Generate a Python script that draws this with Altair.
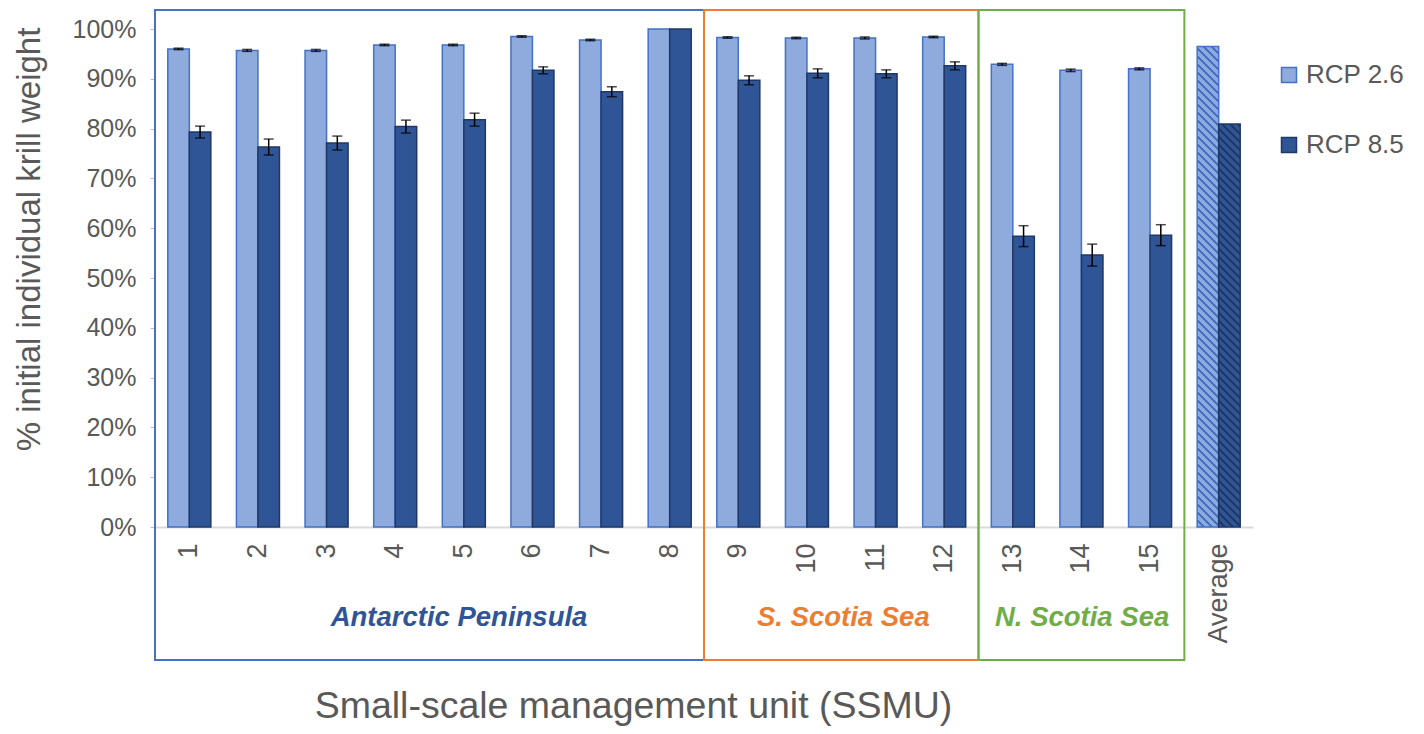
import altair as alt
import pandas as pd

# ---------------- data ----------------
categories = ["1", "2", "3", "4", "5", "6", "7", "8", "9", "10", "11", "12", "13", "14", "15", "Average"]
ssmu = categories[:15]
series = ["RCP 2.6", "RCP 8.5"]

rcp26 = [96.0, 95.7, 95.7, 96.8, 96.8, 98.5, 97.8, 100.0, 98.3, 98.2, 98.2, 98.4, 92.9, 91.7, 92.0]
rcp85 = [79.3, 76.3, 77.1, 80.4, 81.8, 91.7, 87.4, 100.0, 89.7, 91.1, 91.0, 92.6, 58.4, 54.6, 58.6]
err26 = [0.15, 0.2, 0.2, 0.15, 0.15, 0.15, 0.15, 0.0, 0.15, 0.15, 0.2, 0.15, 0.2, 0.25, 0.2]
err85 = [1.2, 1.6, 1.4, 1.3, 1.3, 0.7, 1.0, 0.0, 0.9, 0.9, 0.8, 0.8, 2.1, 2.2, 2.1]
avg_values = [96.5, 80.9]

regions = ["Antarctic Peninsula", "S. Scotia Sea", "N. Scotia Sea"]
region_first_slot = [0, 8, 12]   # SSMU slots covered by each region
region_last_slot = [8, 12, 15]

# ---------------- layout / style ----------------
W, H = 1098, 498
INNER_PAD = 0.373
LIGHT, DARK = "#8FAADC", "#2F5597"
LIGHT_EDGE, DARK_EDGE = "#4472C4", "#1F3864"
REGION_COLORS = ["#4472C4", "#ED7D31", "#70AD47"]
REGION_TEXT_COLORS = ["#2F5597", "#ED7D31", "#70AD47"]
GREY = "#595959"
FONT = "Liberation Sans"
BOX_TOP, BOX_BOTTOM = 103.8, -26.7          # in y-units (percent)
LABEL_X = [4.43, 10.03, 13.51]               # label centres in slot units
LABEL_Y = -18.3

bars_df = pd.DataFrame({
    "ssmu": ssmu + ssmu,
    "series": [series[0]] * len(ssmu) + [series[1]] * len(ssmu),
    "value": rcp26 + rcp85,
})

err_rows = []
for s, vals, errs in ((series[0], rcp26, err26), (series[1], rcp85, err85)):
    for c, v, e in zip(ssmu, vals, errs):
        if e > 0:
            err_rows.append({"ssmu": c, "series": s, "lo": v - e, "hi": v + e})
err_df = pd.DataFrame(err_rows)

avg_df = pd.DataFrame({"ssmu": ["Average"] * 2, "series": series, "value": avg_values})

box_df = pd.DataFrame({
    "region": regions,
    "x0": region_first_slot,
    "x1": region_last_slot,
    "y0": [BOX_BOTTOM] * 3,
    "y1": [BOX_TOP] * 3,
})
label_df = pd.DataFrame({"region": regions, "xq": LABEL_X, "yq": [LABEL_Y] * 3})


def hatch(base, stripe, value):
    step = W / len(categories)
    w = step * (1 - INNER_PAD) / 2
    h = value * H / 100.0
    total = w + h
    k = total / (w * w + h * h)
    period, line = 8.0, 3.0
    stops = []
    pos = 0.0
    while pos < total:
        a = round(pos / total, 5)
        b = round(min((pos + period - line) / total, 1.0), 5)
        c = round(min((pos + period) / total, 1.0), 5)
        stops += [
            {"offset": a, "color": base},
            {"offset": b, "color": base},
            {"offset": b, "color": stripe},
            {"offset": c, "color": stripe},
        ]
        pos += period
    return {"gradient": "linear", "x1": 0, "y1": 1,
            "x2": round(w * k, 5), "y2": round(1 - h * k, 5), "stops": stops}


x_band = alt.Scale(domain=categories, paddingInner=INNER_PAD, paddingOuter=INNER_PAD / 2)
xo_scale = alt.Scale(domain=series, paddingInner=0, paddingOuter=0)
y_scale = alt.Scale(domain=[0, 100], nice=False, zero=True)
xq_scale = alt.Scale(domain=[0, 16], nice=False, zero=False)

y_axis = alt.Axis(
    title="% initial individual krill weight",
    values=[0, 10, 20, 30, 40, 50, 60, 70, 80, 90, 100],
    labelExpr="datum.value + '%'", labelFontSize=25, labelColor=GREY,
    labelFont=FONT, tickColor="#BFBFBF", tickSize=5, labelPadding=14,
    domainColor="#D9D9D9", grid=False,
    titleFontSize=33, titleColor=GREY, titleFont=FONT, titleFontWeight="normal",
    titleAngle=270, titleX=-116, titleY=210, titleBaseline="alphabetic",
    titleAlign="center",
)

legend = alt.Legend(
    title=None, orient="none", legendX=1121, legendY=33,
    labelFontSize=26, labelColor=GREY, labelFont=FONT,
    symbolType="square", symbolSize=225, symbolStrokeWidth=1.5,
    rowPadding=44, labelOffset=4,
)

bars = alt.Chart(bars_df).mark_bar(strokeWidth=1.5).encode(
    x=alt.X("ssmu:N", scale=x_band, sort=categories,
            axis=alt.Axis(title="Small-scale management unit (SSMU)",
                          labelAngle=270, labelFontSize=27, labelColor=GREY, labelFont=FONT,
                          ticks=False, labelPadding=16, domainColor="#D9D9D9", domainWidth=2,
                          titleFontSize=37.5, titleColor=GREY, titleFont=FONT, titleFontWeight="normal",
                          titleX=478, titleY=190, titleBaseline="alphabetic", titleAlign="center")),
    xOffset=alt.XOffset("series:N", scale=xo_scale),
    y=alt.Y("value:Q", scale=y_scale, axis=y_axis),
    color=alt.Color("series:N", scale=alt.Scale(domain=series, range=[LIGHT, DARK]), legend=legend),
    stroke=alt.Stroke("series:N", scale=alt.Scale(domain=series, range=[LIGHT_EDGE, DARK_EDGE]), legend=legend),
)

avg_layers = []
for i, (base, stripe, edge) in enumerate(((LIGHT, LIGHT_EDGE, LIGHT_EDGE), (DARK, DARK_EDGE, DARK_EDGE))):
    avg_layers.append(
        alt.Chart(avg_df.iloc[[i]]).mark_bar(fill=hatch(base, stripe, avg_values[i]),
                                             stroke=edge, strokeWidth=1.5).encode(
            x=alt.X("ssmu:N", scale=x_band, axis=None),
            xOffset=alt.XOffset("series:N", scale=xo_scale),
            y=alt.Y("value:Q", scale=y_scale, axis=y_axis),
        )
    )

err_base = alt.Chart(err_df).encode(
    x=alt.X("ssmu:N", scale=x_band, axis=None),
    xOffset=alt.XOffset("series:N", scale=xo_scale),
)
err_rule = err_base.mark_rule(color="black", strokeWidth=1.5).encode(
    y=alt.Y("lo:Q", scale=y_scale, axis=y_axis), y2="hi:Q")
cap_lo = err_base.mark_tick(color="black", thickness=1.5, size=10, orient="horizontal").encode(
    y=alt.Y("lo:Q", scale=y_scale, axis=y_axis))
cap_hi = err_base.mark_tick(color="black", thickness=1.5, size=10, orient="horizontal").encode(
    y=alt.Y("hi:Q", scale=y_scale, axis=y_axis))

boxes = alt.Chart(box_df).mark_rect(fillOpacity=0, strokeWidth=2, clip=False).encode(
    x=alt.X("x0:Q", scale=xq_scale, axis=None),
    x2="x1:Q",
    y=alt.Y("y0:Q", scale=y_scale, axis=y_axis),
    y2="y1:Q",
    stroke=alt.Stroke("region:N", scale=alt.Scale(domain=regions, range=REGION_COLORS), legend=None),
)

labels = alt.Chart(label_df).mark_text(fontSize=27.5, fontWeight="bold", fontStyle="italic",
                                       font=FONT, baseline="middle", align="center", clip=False).encode(
    x=alt.X("xq:Q", scale=xq_scale, axis=None),
    y=alt.Y("yq:Q", scale=y_scale, axis=y_axis),
    text="region:N",
    color=alt.Color("region:N", scale=alt.Scale(domain=regions, range=REGION_TEXT_COLORS), legend=None),
)

chart = alt.layer(bars, *avg_layers, err_rule, cap_lo, cap_hi, boxes, labels).resolve_scale(
    x="independent", color="independent", stroke="independent"
).properties(
    width=W, height=H,
    padding={"left": 147, "top": 21, "right": 161, "bottom": 199},
    autosize=alt.AutoSizeParams(type="none"),
    background="white",
).configure_view(stroke="transparent", strokeWidth=0)

chart.save("out.html", embed_options={"renderer": "svg", "actions": False})
